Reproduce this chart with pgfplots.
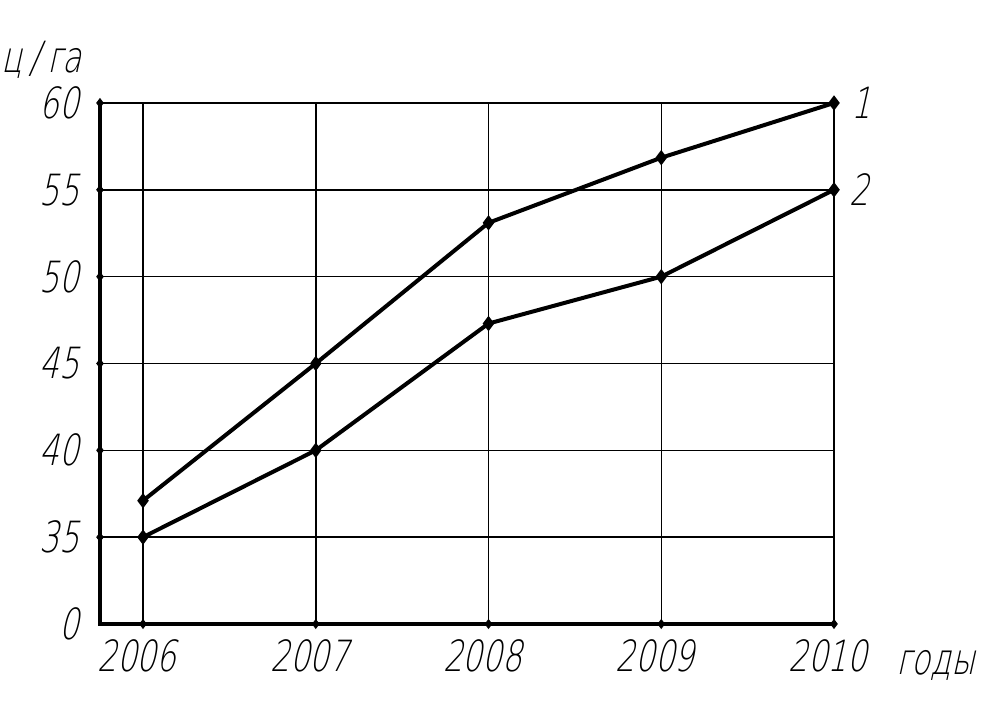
\documentclass[border=0pt]{standalone}
\usepackage{fontspec}
\setmainfont{DejaVu Sans ExtraLight}[FakeSlant=0.22, FakeStretch=0.72]
\usepackage{pgfplots}
\pgfplotsset{compat=1.18}
\newcommand{\gost}{\fontsize{21.5}{25}\selectfont}
\begin{document}
\begin{tikzpicture}
\begin{axis}[
  scale only axis, width=367pt, height=260.5pt,
  xmin=2005.751, xmax=2010, ymin=30, ymax=60,
  axis x line*=bottom, axis y line*=left,
  axis line style={line width=2.3pt, line cap=rect},
  xtick={2006,2007,2008,2009,2010},
  xticklabels={2006,2007,2008,2009,2010},
  ytick={30,35,40,45,50,55,60},
  yticklabels={0,35,40,45,50,55,60},
  major tick length=0pt,
  grid=major, grid style={black, line width=0.75pt},
  tick label style={font=\gost},
  xticklabel style={yshift=-4.5pt, xshift=-3pt},
  yticklabel style={xshift=-7pt},
  clip=false,
]
\coordinate (O) at (rel axis cs:0,0);
\addplot[black, line width=2pt, mark=diamond*, mark size=2.2pt] coordinates {
  (2006,37.1) (2007,45) (2008,53.1) (2009,56.85) (2010,60)};
\addplot[black, line width=2pt, mark=diamond*, mark size=2.2pt] coordinates {
  (2006,35) (2007,40) (2008,47.3) (2009,50) (2010,55)};
\addplot[black, only marks, mark=diamond*, mark size=2.2pt] coordinates {
  (2005.751,35) (2005.751,40) (2005.751,45) (2005.751,50) (2005.751,55) (2005.751,60)
  (2006,30) (2007,30) (2008,30) (2009,30) (2010,30)};
\node[anchor=west, font=\gost, xshift=5pt] at (axis cs:2010,60) {1};
\node[anchor=west, font=\gost, xshift=4pt] at (axis cs:2010,55) {2};
\node[anchor=base east, font=\gost, xshift=-9pt, yshift=15pt, inner sep=0pt] at (rel axis cs:0,1) {ц\,/\,га};
\node[anchor=base west, font=\gost, xshift=31pt, yshift=-25.5pt, inner sep=0pt] at (axis cs:2010,30) {годы};
\end{axis}
\pgfresetboundingbox
\path[use as bounding box] (O) ++(-50pt,-43pt) rectangle ++(504pt,355pt);
\end{tikzpicture}
\end{document}
